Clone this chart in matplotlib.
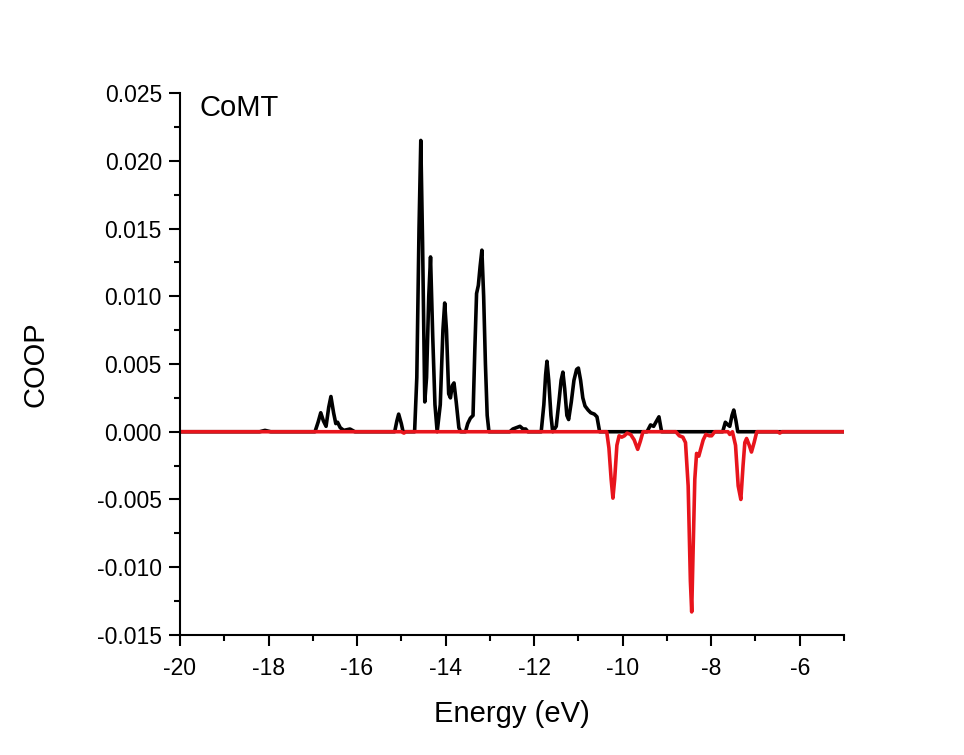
import matplotlib
matplotlib.use("Agg")
import matplotlib.pyplot as plt
from matplotlib.ticker import MultipleLocator

plt.rcParams['font.family'] = ['Liberation Sans', 'DejaVu Sans']
plt.rcParams['axes.unicode_minus'] = False

# Black curve (energy in eV, COOP)
black_energy = [-20.0, -18.2, -18.08, -17.95, -16.95, -16.88, -16.82, -16.76, -16.7, -16.64,
                -16.59, -16.53, -16.48, -16.44, -16.38, -16.3, -16.16, -16.05, -15.15, -15.1,
                -15.06, -15.0, -14.96, -14.7, -14.65, -14.6, -14.56, -14.52, -14.47, -14.43,
                -14.38, -14.34, -14.29, -14.24, -14.19, -14.12, -14.06, -14.02, -13.98, -13.93,
                -13.89, -13.85, -13.81, -13.76, -13.7, -13.66, -13.55, -13.5, -13.44, -13.38,
                -13.34, -13.3, -13.26, -13.22, -13.18, -13.14, -13.1, -13.06, -13.02, -12.55,
                -12.48, -12.4, -12.32, -12.25, -12.19, -12.14, -11.84, -11.78, -11.74, -11.71,
                -11.67, -11.62, -11.58, -11.5, -11.44, -11.39, -11.35, -11.31, -11.26, -11.22,
                -11.16, -11.1, -11.04, -11.0, -10.95, -10.9, -10.85, -10.78, -10.72, -10.64,
                -10.58, -10.52, -9.45, -9.37, -9.3, -9.25, -9.18, -9.12, -7.74, -7.68,
                -7.62, -7.58, -7.53, -7.49, -7.44, -7.4, -5.0]
black_coop = [0, 0, 0.0001, 0, 0, 0.0007, 0.0014, 0.0008, 0.0004, 0.0018,
              0.0026, 0.0014, 0.0006, 0.0007, 0.0003, 0.0001, 0.0002, 0, 0, 0.0008,
              0.0013, 0.0006, 0, 0, 0.004, 0.015, 0.0215, 0.014, 0.0022, 0.004,
              0.010, 0.0129, 0.007, 0.002, 0, 0.002, 0.0075, 0.0095, 0.0075, 0.0028,
              0.0025, 0.0034, 0.0036, 0.0022, 0.0003, 0, 0, 0.0006, 0.001, 0.0012,
              0.006, 0.0102, 0.0108, 0.0122, 0.0134, 0.010, 0.005, 0.0012, 0, 0,
              0.0002, 0.0003, 0.0004, 0.0002, 0.0002, 0, 0, 0.002, 0.0042, 0.0052,
              0.0038, 0.0012, 0, 0.0004, 0.0022, 0.0038, 0.0044, 0.0032, 0.0012, 0.0009,
              0.0022, 0.0038, 0.0046, 0.0047, 0.0038, 0.0025, 0.0019, 0.0016, 0.0014, 0.0013,
              0.0011, 0, 0, 0.0005, 0.0004, 0.0007, 0.0011, 0, 0, 0.0007,
              0.0005, 0.0004, 0.0012, 0.0016, 0.0008, 0, 0]

# Red curve
red_energy = [-20.0, -15.0, -14.94, -14.9, -10.36, -10.31, -10.26, -10.22, -10.18, -10.13,
              -10.08, -10.02, -9.96, -9.9, -9.82, -9.74, -9.66, -9.6, -9.54, -8.8,
              -8.72, -8.64, -8.58, -8.52, -8.47, -8.44, -8.41, -8.37, -8.33, -8.28,
              -8.23, -8.18, -8.12, -8.04, -7.99, -7.92, -7.62, -7.58, -7.52, -7.45,
              -7.39, -7.33, -7.28, -7.24, -7.2, -7.14, -7.09, -7.03, -6.97, -6.5,
              -6.45, -6.4, -5.0]
red_coop = [0, 0, -0.0001, 0, 0, -0.0012, -0.0035, -0.0049, -0.0035, -0.001,
            -0.0003, -0.0004, -0.0003, -0.0001, -0.0002, -0.0006, -0.0013, -0.0007, 0, 0,
            -0.0003, -0.0004, -0.0008, -0.004, -0.011, -0.0133, -0.009, -0.0035, -0.0016, -0.0018,
            -0.0012, -0.0006, -0.0002, -0.0003, -0.0003, 0, 0, -0.0002, 0, -0.001,
            -0.004, -0.005, -0.0025, -0.0008, -0.0005, -0.001, -0.0015, -0.0008, 0, 0,
            -0.0001, 0, 0]

fig = plt.figure(figsize=(9.64, 7.55), dpi=100)
ax = fig.add_axes([0.1867, 0.159, 0.6888, 0.7178])

ax.plot(black_energy, black_coop, color='black', lw=2.6, solid_joinstyle='round')
ax.plot(red_energy, red_coop, color='#e8141c', lw=2.6, solid_joinstyle='round')

ax.set_xlim(-20, -5)
ax.set_ylim(-0.015, 0.025)
ax.set_xticks([-20, -18, -16, -14, -12, -10, -8, -6])
ax.xaxis.set_minor_locator(MultipleLocator(1))
ax.yaxis.set_major_locator(MultipleLocator(0.005))
ax.yaxis.set_minor_locator(MultipleLocator(0.0025))
ax.set_yticklabels([f'{v:.3f}' for v in ax.get_yticks()])

# Only left and bottom axis lines
ax.spines['top'].set_visible(False)
ax.spines['right'].set_visible(False)
for s in ('left', 'bottom'):
    ax.spines[s].set_linewidth(1.5)

ax.tick_params(which='major', direction='out', length=8, width=1.5, labelsize=16.5, pad=5)
ax.tick_params(axis='x', which='major', pad=8)
ax.tick_params(which='minor', direction='out', length=4, width=1.5)

ax.set_xlabel('Energy (eV)', fontsize=21, labelpad=14)
ax.set_ylabel('COOP', fontsize=21, labelpad=34)
ax.text(0.03, 0.972, 'CoMT', transform=ax.transAxes, fontsize=21, va='center', ha='left')

fig.savefig('out.png', dpi=100)
